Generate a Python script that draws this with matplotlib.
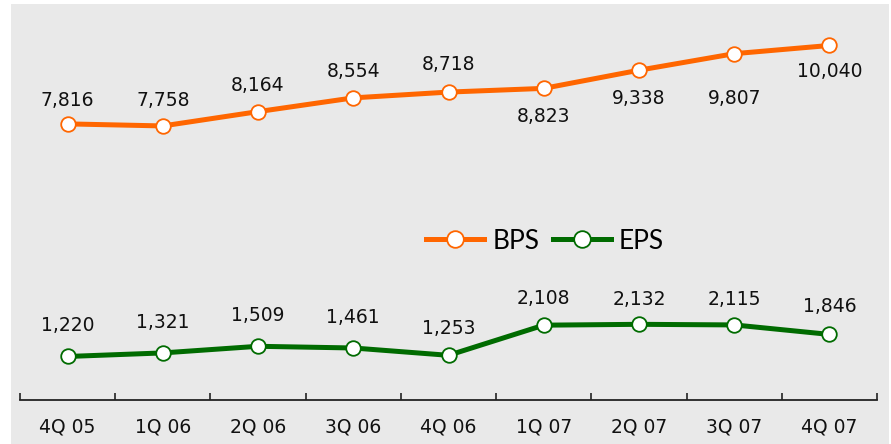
import matplotlib.pyplot as plt
from matplotlib.patches import Rectangle
from matplotlib.lines import Line2D

quarters = ['4Q 05', '1Q 06', '2Q 06', '3Q 06', '4Q 06', '1Q 07', '2Q 07', '3Q 07', '4Q 07']
bps = [7816, 7758, 8164, 8554, 8718, 8823, 9338, 9807, 10040]
eps = [1220, 1321, 1509, 1461, 1253, 2108, 2132, 2115, 1846]

# label offsets in points (positive = above the marker)
bps_off = [17, 18, 19, 19, 20, -20, -20, -32, -19]
eps_off = [22, 22, 22, 22, 19, 19, 18, 18, 20]

orange = '#FF6600'
green = '#006B00'

fig = plt.figure(figsize=(8.91, 4.44), dpi=100)
fig.patch.set_facecolor('white')
W, H = 891, 444
fig.patches.append(Rectangle((11 / W, 0), (889 - 11) / W, (444 - 4) / H,
                             transform=fig.transFigure, facecolor='#E9E9E9',
                             edgecolor='none', zorder=-5))

ax = fig.add_axes([20 / W, (444 - 399.5) / H, 857 / W, (399.5 - 4) / H])
ax.patch.set_alpha(0)
x = list(range(len(quarters)))

ax.plot(x, bps, color=orange, lw=3.6, marker='o', ms=10.5, mfc='white',
        mec=orange, mew=1.3, solid_capstyle='round', zorder=3)
ax.plot(x, eps, color=green, lw=3.6, marker='o', ms=10.5, mfc='white',
        mec=green, mew=1.3, solid_capstyle='round', zorder=3)

for series, offs in ((bps, bps_off), (eps, eps_off)):
    for i, v in enumerate(series):
        ax.annotate(f'{v:,}', (i, v), xytext=(0, offs[i]), textcoords='offset points',
                    ha='center', va='center', fontsize=13.5, color='#111111',
                    family='DejaVu Sans')

ax.set_xlim(-0.5, len(quarters) - 0.5)
ax.set_ylim(0, 11216)
ax.set_yticks([])
for s in ['left', 'right', 'top']:
    ax.spines[s].set_visible(False)
ax.spines['bottom'].set_linewidth(1.3)
ax.spines['bottom'].set_color('#222222')

ax.set_xticks(x)
ax.set_xticklabels(quarters, fontsize=13.5, family='DejaVu Sans', color='#111111')
ax.tick_params(axis='x', which='major', length=0, pad=13)
ax.set_xticks([i - 0.5 for i in range(len(quarters) + 1)], minor=True)
ax.tick_params(axis='x', which='minor', direction='in', length=5, width=1.2, color='#222222')

handles = [Line2D([], [], color=orange, lw=3.6, marker='o', ms=12, mfc='white', mec=orange, mew=1.3),
           Line2D([], [], color=green, lw=3.6, marker='o', ms=12, mfc='white', mec=green, mew=1.3)]
leg = fig.legend(handles, ['BPS', 'EPS'], loc='center', bbox_to_anchor=(545 / W, 1 - 241 / H),
                 ncol=2, frameon=False, handlelength=2.2, handletextpad=0.3, columnspacing=0.5,
                 prop={'family': 'Lato', 'size': 19})

fig.savefig('out.png', dpi=100)
